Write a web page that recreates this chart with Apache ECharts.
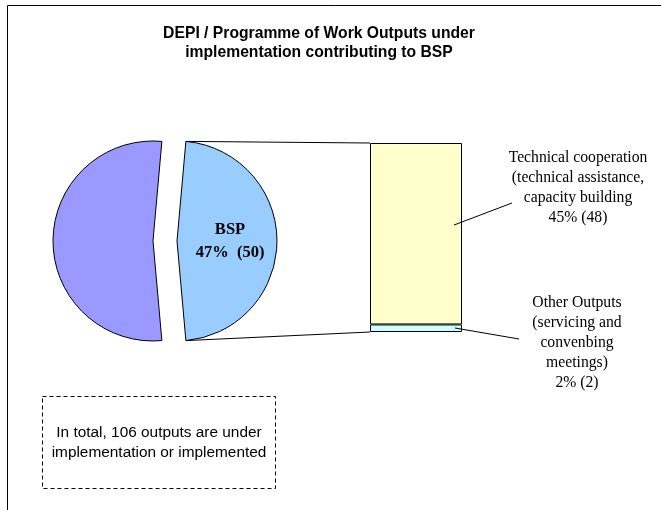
<!DOCTYPE html>
<html>
<head>
<meta charset="utf-8">
<script src="https://cdn.jsdelivr.net/npm/echarts@6/dist/echarts.min.js"></script>
<style>html,body{margin:0;padding:0;background:#fff;}#c{width:661px;height:510px;}</style>
</head>
<body>
<div id="c"></div>
<script>
// ---- data ----
const titleText = 'DEPI / Programme of Work Outputs under\nimplementation contributing to BSP';
const pieNames = ['BSP', 'Other DEPI outputs'];
const pieValues = [50, 56];
const pieColors = ['#99CCFF', '#9999FF'];
const barNames = ['Other Outputs\n(servicing and\nconvenbing\nmeetings)', 'Technical cooperation\n(technical assistance,\ncapacity building'];
const barValues = [2, 48];
const barPercents = [2, 45];
const barColors = ['#CCFFFF', '#FFFFCC'];
const noteText = 'In total, 106 outputs are under\nimplementation or implemented';

// ---- layout ----
const pieCenter = [165, 241], pieRadius = 100, pieOffset = 12;
const grid = {left: 370, top: 143, width: 92, height: 189};
const total = pieValues.reduce((a, b) => a + b, 0);
const bspStart = 360 * pieValues[0] / total / 2; // BSP slice centred on the right
const barLabelPos = [[577, 343, 20], [578, 188, 20]];

const chart = echarts.init(document.getElementById('c'), null, {renderer: 'canvas'});

const barSeries = barValues.map((v, i) => ({
  type: 'bar',
  name: barNames[i],
  stack: 'total',
  barWidth: '100%',
  data: [v],
  itemStyle: {color: barColors[i], borderColor: '#000', borderWidth: 1},
  label: {
    show: true,
    formatter: () => barNames[i] + '\n' + barPercents[i] + '% (' + barValues[i] + ')',
    fontFamily: 'Liberation Serif',
    fontSize: 15.7,
    lineHeight: barLabelPos[i][2],
    color: '#000',
    align: 'center'
  },
  labelLayout: {x: barLabelPos[i][0], y: barLabelPos[i][1], align: 'center', verticalAlign: 'middle'},
  emphasis: {disabled: true}
}));

chart.setOption({
  animation: false,
  grid: grid,
  xAxis: {type: 'category', data: [''], show: false},
  yAxis: {type: 'value', min: 0, max: barValues.reduce((a, b) => a + b, 0), show: false},
  series: [
    {
      type: 'pie',
      center: pieCenter,
      radius: pieRadius,
      startAngle: bspStart,
      clockwise: true,
      selectedMode: 'multiple',
      selectedOffset: pieOffset,
      emphasis: {disabled: true},
      select: {itemStyle: {borderColor: '#000', borderWidth: 1}},
      data: pieValues.map((v, i) => ({
        name: pieNames[i], value: v, selected: true,
        itemStyle: {color: pieColors[i], borderColor: '#000', borderWidth: 1},
        label: i === 0 ? {
          show: true, position: 'inside',
          formatter: p => p.name + '\n' + Math.round(p.percent) + '%  (' + p.value + ')',
          fontFamily: 'Liberation Serif', fontWeight: 'bold', fontSize: 16.5, lineHeight: 23,
          color: '#000', offset: [-9, -10]
        } : {show: false}
      })),
      labelLine: {show: false}
    },
    ...barSeries
  ]
});

// connectors from the exploded BSP slice to the bar
const a = bspStart * Math.PI / 180;
const cx = pieCenter[0] + pieOffset, cy = pieCenter[1];
const pTop = [cx + pieRadius * Math.cos(a), cy - pieRadius * Math.sin(a)];
const pBot = [cx + pieRadius * Math.cos(a), cy + pieRadius * Math.sin(a)];
const barTop = chart.convertToPixel({yAxisIndex: 0}, barValues.reduce((x, y) => x + y, 0));
const barBot = chart.convertToPixel({yAxisIndex: 0}, 0);
const lineStyle = {stroke: '#000', lineWidth: 1};

chart.setOption({
  graphic: [
    {type: 'rect', shape: {x: 7.5, y: 5.5, width: 700, height: 600}, style: {fill: 'none', stroke: '#000', lineWidth: 1}, silent: true},
    {type: 'text', x: 319, y: 43.5, style: {text: titleText, font: 'bold 15.7px "Liberation Sans", Arial', textAlign: 'center', textVerticalAlign: 'middle', lineHeight: 19, fill: '#000'}},
    {type: 'line', z: 100, shape: {x1: pTop[0], y1: pTop[1], x2: grid.left, y2: barTop}, style: lineStyle},
    {type: 'line', z: 100, shape: {x1: pBot[0], y1: pBot[1], x2: grid.left, y2: barBot}, style: lineStyle},
    {type: 'line', z: 100, shape: {x1: 512, y1: 203, x2: 454, y2: 225}, style: lineStyle},
    {type: 'line', z: 100, shape: {x1: 519, y1: 339, x2: 455, y2: 328}, style: lineStyle},
    {type: 'rect', shape: {x: 42.5, y: 396.5, width: 233, height: 92}, style: {fill: 'none', stroke: '#000', lineWidth: 1, lineDash: [4, 3]}},
    {type: 'text', x: 159, y: 443, style: {text: noteText, font: '15.4px "Liberation Sans", Arial', textAlign: 'center', textVerticalAlign: 'middle', lineHeight: 20, fill: '#000'}}
  ]
});
</script>
</body>
</html>
